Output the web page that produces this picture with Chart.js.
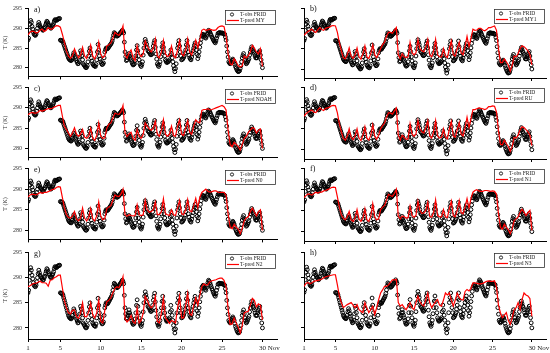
<!DOCTYPE html>
<html>
<head>
<meta charset="utf-8">
<script src="https://cdn.jsdelivr.net/npm/chart.js@4.4.0/dist/chart.umd.min.js"></script>
<style>
  html, body { margin: 0; padding: 0; background: #fff; }
  body { width: 550px; height: 353px; position: relative; overflow: hidden; }
  canvas { position: absolute; }
</style>
</head>
<body>
<script>
// Observed temperature (K), every 2 h from 1 Nov 00h to 30 Nov 00h (one line per day)
const obsTemp = [
  287.0, 287.5, 289.5, 291.0, 292.0, 291.5, 290.5, 289.8, 289.0, 288.5, 288.3, 288.2,
  288.5, 289.2, 290.0, 290.8, 291.5, 291.0, 290.5, 290.2, 290.0, 289.8, 289.5, 289.6,
  290.0, 290.3, 290.8, 291.3, 291.8, 291.6, 291.2, 290.8, 290.5, 290.2, 290.0, 290.2,
  290.5, 290.8, 291.2, 291.8, 292.2, 292.1, 292.0, 292.1, 292.3, 292.4, 292.4, 292.5,
  287.0, 286.9, 286.9, 286.8, 286.5, 286.0, 285.5, 285.0, 284.5, 284.0, 283.5, 283.0,
  282.5, 282.2, 282.0, 281.9, 281.8, 282.0, 282.5, 283.2, 283.8, 283.4, 282.8, 282.3,
  281.8, 281.4, 281.0, 281.1, 281.5, 282.8, 284.3, 283.8, 283.0, 282.0, 281.0, 280.7,
  280.5, 280.2, 280.0, 280.1, 280.5, 281.5, 283.0, 284.2, 285.0, 283.8, 282.5, 281.7,
  281.0, 280.7, 280.5, 280.4, 280.3, 280.8, 282.0, 284.0, 285.9, 284.5, 283.0, 282.2,
  281.5, 281.1, 280.8, 280.9, 281.2, 282.5, 284.0, 284.6, 285.0, 284.9, 284.8, 285.0,
  285.3, 285.5, 285.8, 286.0, 286.3, 286.8, 287.5, 288.3, 288.9, 288.7, 288.5, 288.2,
  288.0, 288.1, 288.2, 288.4, 288.6, 288.8, 289.0, 289.2, 289.5, 289.2, 288.8, 286.5,
  284.0, 282.8, 281.8, 282.0, 282.5, 283.0, 283.6, 283.0, 282.5, 282.0, 281.5, 281.0,
  280.7, 280.8, 281.0, 281.8, 283.0, 284.5, 285.6, 284.3, 283.0, 282.0, 281.0, 280.6,
  280.3, 280.8, 281.5, 283.2, 285.0, 286.3, 287.2, 286.6, 286.0, 285.2, 284.3, 284.1,
  284.0, 283.6, 283.3, 283.3, 283.5, 284.5, 285.5, 286.3, 286.9, 285.2, 283.5, 282.2,
  281.0, 280.6, 280.3, 280.8, 281.5, 282.8, 284.0, 285.3, 286.3, 285.2, 284.0, 283.0,
  282.0, 281.6, 281.3, 281.4, 281.5, 281.7, 282.0, 283.2, 284.5, 283.5, 282.5, 281.5,
  280.5, 279.7, 279.0, 279.8, 281.0, 283.0, 285.0, 286.0, 286.9, 285.5, 284.0, 283.0,
  282.0, 282.1, 282.3, 282.6, 283.0, 283.7, 284.5, 285.8, 286.9, 285.5, 284.0, 283.2,
  282.5, 282.2, 282.0, 282.7, 283.5, 284.3, 285.0, 285.7, 286.3, 285.4, 284.5, 283.4,
  282.3, 283.0, 284.0, 285.2, 286.3, 287.2, 288.0, 288.3, 288.5, 288.3, 288.0, 287.7,
  287.5, 288.0, 288.5, 289.0, 289.5, 289.3, 289.0, 288.6, 288.2, 287.8, 287.5, 287.1,
  286.8, 286.5, 286.3, 286.8, 287.5, 288.1, 288.7, 288.8, 288.9, 288.9, 288.8, 288.8,
  288.8, 288.8, 288.7, 288.6, 288.5, 287.8, 287.0, 285.5, 284.0, 282.7, 281.5, 281.2,
  281.0, 281.2, 281.5, 281.9, 282.2, 281.9, 281.5, 280.9, 280.3, 279.9, 279.5, 279.2,
  279.0, 279.1, 279.2, 279.8, 280.5, 281.5, 282.5, 283.1, 283.6, 282.8, 282.0, 281.5,
  281.0, 281.2, 281.5, 281.9, 282.3, 283.2, 284.0, 284.7, 285.3, 284.8, 284.3, 284.0,
  283.6, 283.0, 282.5, 282.5, 282.5, 283.0, 283.5, 283.9, 284.3, 283.2, 282.0, 281.0,
  280.0
];

// Predicted temperature (K), every 6 h
const predMY = [
  288.3, 289.0, 289.3, 289.2,  288.8, 289.0, 289.5, 289.8,  289.2, 289.5, 290.2, 289.8,
  289.8, 290.3, 290.7, 290.6,  290.3, 288.5, 286.5, 284.2,  283.0, 282.4, 283.0, 284.8,
  283.5, 282.5, 283.2, 285.2,  283.0, 282.3, 283.5, 285.7,  283.0, 282.2, 283.5, 286.5,
  283.5, 282.5, 283.0, 285.5,  285.8, 286.3, 287.5, 289.0,  288.5, 288.2, 289.0, 290.6,
  283.2, 282.4, 283.8, 284.5,  282.5, 281.8, 285.6, 283.5,  282.8, 283.5, 286.8, 285.5,
  284.5, 284.0, 285.0, 287.3,  283.0, 282.5, 284.0, 286.9,  283.5, 282.8, 283.2, 285.5,
  283.0, 282.5, 284.5, 286.9,  283.5, 283.0, 284.5, 287.3,  284.0, 283.2, 285.0, 287.0,
  285.0, 287.0, 289.5, 289.8,  289.5, 289.6, 289.8, 289.6,  289.5, 289.6, 290.2, 290.5,
  290.6, 290.4, 288.0, 283.5,  281.0, 280.7, 282.3, 281.5,  280.5, 280.2, 280.5, 283.0,
  282.5, 283.0, 284.0, 285.7,  285.0, 284.0, 283.5, 284.8,  280.3
];
const predMY1 = [
  288.3, 288.8, 289.2, 289.5,  289.8, 289.2, 289.0, 289.6,  290.2, 289.7, 289.5, 290.0,
  290.2, 290.3, 290.6, 290.7,  290.6, 289.0, 286.5, 284.5,  282.8, 282.5, 283.5, 285.2,
  283.2, 282.6, 283.5, 285.2,  283.0, 282.4, 283.8, 285.7,  283.0, 282.6, 283.8, 286.0,
  283.5, 282.8, 283.8, 285.0,  286.0, 286.6, 288.0, 289.0,  289.0, 288.8, 289.5, 290.2,
  283.5, 282.5, 283.8, 283.0,  282.8, 283.0, 286.6, 284.0,  283.5, 284.0, 287.3, 285.0,
  284.5, 284.2, 285.5, 287.3,  283.5, 283.0, 284.5, 287.3,  283.5, 283.0, 283.0, 285.0,
  283.2, 282.8, 285.0, 286.9,  283.5, 283.2, 285.0, 286.6,  284.0, 283.5, 285.5, 288.0,
  285.5, 287.5, 289.8, 289.5,  289.6, 290.0, 290.0, 289.6,  289.4, 289.7, 290.2, 290.2,
  290.4, 290.6, 289.5, 285.0,  281.6, 281.6, 282.5, 281.8,  281.0, 279.5, 281.0, 283.2,
  283.0, 283.8, 285.0, 285.7,  285.5, 285.0, 284.5, 283.5,  281.0
];
const predNOAH = [
  288.3, 288.7, 288.9, 288.7,  288.7, 289.0, 289.4, 289.2,  289.4, 289.6, 289.8, 289.8,
  289.9, 290.2, 290.4, 290.6,  290.6, 288.0, 285.5, 284.7,  283.8, 283.0, 283.8, 285.1,
  283.5, 283.0, 283.5, 284.7,  282.8, 282.5, 283.0, 285.0,  282.5, 282.0, 283.2, 286.3,
  283.0, 282.5, 282.6, 285.0,  286.0, 286.3, 287.5, 288.7,  288.5, 288.4, 289.0, 290.6,
  283.9, 282.9, 283.6, 284.0,  282.5, 282.0, 284.7, 283.0,  282.5, 283.5, 286.3, 285.5,
  284.8, 284.5, 285.0, 286.7,  283.5, 283.0, 284.5, 287.1,  283.5, 283.0, 283.5, 285.5,
  283.2, 283.0, 285.5, 287.1,  283.5, 283.2, 285.0, 286.9,  284.0, 283.5, 285.5, 287.1,
  286.5, 286.3, 289.4, 289.6,  289.6, 289.8, 289.5, 289.6,  289.8, 290.0, 290.2, 290.4,
  290.6, 290.3, 289.5, 284.5,  281.0, 280.4, 281.5, 281.0,  280.5, 279.6, 281.0, 282.5,
  283.0, 284.0, 284.5, 285.1,  285.0, 283.8, 284.5, 284.8,  280.0
];
const predRU = [
  288.0, 288.6, 289.0, 289.3,  289.5, 289.0, 288.9, 289.5,  290.0, 289.6, 289.4, 289.9,
  290.0, 290.2, 290.5, 290.6,  290.5, 288.8, 286.2, 284.3,  282.8, 282.3, 283.2, 285.0,
  283.0, 282.4, 283.3, 285.0,  282.8, 282.2, 283.5, 285.5,  282.8, 282.3, 283.5, 286.0,
  283.2, 282.5, 283.5, 285.0,  285.8, 286.4, 287.8, 288.8,  288.8, 288.5, 289.3, 290.0,
  283.5, 282.3, 283.5, 283.0,  282.5, 282.6, 286.2, 283.8,  283.2, 283.8, 287.0, 285.0,
  284.3, 284.0, 285.3, 287.0,  283.3, 282.8, 284.3, 287.0,  283.3, 282.8, 283.0, 285.0,
  283.0, 282.6, 285.0, 286.8,  283.3, 283.0, 284.8, 286.5,  283.8, 283.3, 285.3, 287.8,
  285.3, 287.3, 289.6, 289.6,  289.8, 290.0, 289.9, 289.8,  289.6, 289.8, 290.3, 290.3,
  290.5, 290.4, 289.0, 284.5,  281.3, 281.2, 282.3, 281.5,  280.8, 279.6, 280.8, 283.0,
  282.8, 283.5, 284.8, 285.5,  285.3, 284.8, 284.3, 283.5,  281.0
];
const predN0 = [
  288.1, 288.6, 288.8, 288.7,  288.6, 288.9, 289.2, 289.0,  289.2, 289.2, 289.4, 289.6,
  289.9, 290.0, 290.4, 290.6,  290.5, 288.0, 285.5, 283.8,  283.1, 283.0, 283.5, 284.6,
  282.8, 282.3, 283.0, 285.4,  283.0, 282.3, 283.0, 285.3,  282.8, 282.3, 283.5, 286.9,
  283.5, 282.6, 282.8, 285.3,  285.7, 286.0, 287.3, 288.6,  288.3, 288.2, 288.8, 290.0,
  283.8, 283.4, 283.8, 283.6,  283.5, 283.6, 286.2, 283.8,  283.6, 283.8, 287.3, 285.0,
  284.4, 284.6, 285.0, 286.9,  283.8, 283.8, 284.5, 287.7,  284.0, 283.8, 283.6, 285.0,
  283.8, 283.6, 285.5, 287.3,  284.0, 283.8, 285.0, 287.5,  284.8, 284.5, 286.0, 287.8,
  285.5, 288.0, 289.2, 289.6,  290.0, 289.5, 289.3, 289.4,  289.6, 289.6, 289.3, 289.2,
  289.2, 289.2, 288.5, 284.0,  280.8, 280.4, 281.5, 280.8,  280.3, 279.2, 280.5, 282.3,
  283.0, 283.3, 284.5, 285.4,  284.5, 283.5, 284.5, 285.0,  280.0
];
const predN1 = [
  288.0, 288.5, 288.9, 288.8,  288.6, 289.0, 289.3, 289.1,  289.3, 289.3, 289.6, 289.7,
  289.9, 290.1, 290.4, 290.5,  290.4, 288.2, 285.8, 284.0,  283.2, 282.8, 283.5, 284.8,
  282.8, 282.4, 283.2, 285.2,  283.0, 282.4, 283.2, 285.4,  282.8, 282.4, 283.6, 286.6,
  283.5, 282.8, 283.0, 285.2,  285.8, 286.2, 287.5, 288.8,  288.5, 288.3, 289.0, 290.0,
  283.6, 283.0, 283.7, 283.5,  283.2, 283.3, 286.0, 283.8,  283.4, 283.8, 287.2, 285.0,
  284.3, 284.4, 285.0, 287.0,  283.6, 283.4, 284.5, 287.5,  283.8, 283.5, 283.5, 285.2,
  283.5, 283.3, 285.5, 287.2,  283.8, 283.5, 285.0, 287.3,  284.5, 284.2, 285.8, 287.8,
  285.5, 287.8, 289.3, 289.7,  289.9, 289.6, 289.5, 289.5,  289.7, 289.7, 289.6, 289.5,
  289.6, 289.5, 288.8, 284.2,  281.0, 280.6, 281.8, 281.0,  280.5, 279.5, 280.7, 282.6,
  283.0, 283.5, 284.5, 285.3,  284.6, 283.8, 284.5, 285.0,  280.3
];
const predN2 = [
  288.2, 288.4, 288.7, 288.9,  288.9, 289.1, 289.3, 289.0,  289.0, 288.9, 288.3, 289.5,
  289.6, 290.0, 290.2, 290.5,  290.5, 288.0, 285.5, 284.0,  283.0, 282.8, 283.5, 283.6,
  282.2, 281.9, 283.0, 285.0,  282.3, 282.2, 283.2, 285.0,  282.6, 282.0, 283.0, 285.6,
  281.3, 281.0, 283.5, 285.2,  285.5, 286.0, 287.0, 287.9,  288.2, 288.0, 288.8, 290.2,
  281.9, 281.2, 281.6, 282.5,  281.2, 280.9, 284.0, 281.0,  281.5, 283.0, 286.3, 285.5,
  284.5, 284.0, 284.5, 286.3,  281.3, 281.0, 283.0, 285.9,  282.0, 281.5, 280.9, 281.5,
  281.3, 281.0, 284.0, 286.3,  282.0, 282.0, 284.5, 286.9,  282.8, 282.5, 284.5, 286.0,
  284.5, 286.5, 288.2, 288.8,  288.5, 288.6, 289.2, 289.4,  289.5, 289.6, 289.8, 289.9,
  289.9, 289.5, 288.2, 283.8,  280.7, 280.8, 282.0, 281.0,  280.2, 279.0, 280.5, 283.0,
  283.2, 283.3, 284.5, 285.9,  285.5, 284.2, 284.8, 284.5,  281.6
];
const predN3 = [
  288.2, 288.8, 289.0, 288.7,  288.9, 289.2, 289.3, 289.4,  289.5, 289.6, 289.9, 290.1,
  290.2, 290.3, 290.4, 290.5,  290.5, 288.5, 286.3, 285.0,  284.0, 284.3, 284.6, 284.8,
  285.0, 284.5, 284.0, 284.6,  283.6, 283.3, 283.0, 285.0,  284.0, 283.0, 283.6, 284.3,
  282.6, 284.0, 285.6, 286.9,  287.5, 288.2, 288.2, 288.5,  289.0, 289.5, 289.5, 289.6,
  285.0, 284.3, 284.6, 284.0,  283.6, 284.3, 285.0, 284.0,  283.6, 285.0, 286.3, 285.2,
  284.6, 284.3, 285.5, 286.9,  285.0, 284.0, 284.6, 285.2,  285.6, 284.5, 284.3, 285.5,
  286.9, 286.5, 286.9, 285.5,  284.3, 285.5, 286.9, 286.0,  285.6, 285.5, 287.2, 287.6,
  287.3, 287.8, 288.9, 288.9,  288.8, 288.7, 288.7, 288.8,  289.0, 289.2, 289.3, 289.2,
  289.2, 289.3, 288.0, 284.5,  283.0, 282.0, 282.5, 283.0,  281.5, 280.7, 282.0, 283.6,
  284.0, 285.0, 283.6, 285.6,  286.9, 286.5, 286.3, 285.8,  282.3
];

const obsPerDay = 12;
const predPerDay = 4;
const firstDay = 1;
const xTicks = [1, 5, 10, 15, 20, 25, 30];
const yTicks = [280, 285, 290, 295];
const panelLetters = ['a)', 'b)', 'c)', 'd)', 'e)', 'f)', 'g)', 'h)'];
const predNames = ['MY', 'MY1', 'NOAH', 'RU', 'N0', 'N1', 'N2', 'N3'];
const predSeries = [predMY, predMY1, predNOAH, predRU, predN0, predN1, predN2, predN3];
const obsName = 'T-obs FRID';

const FONT = '"Liberation Serif", "DejaVu Serif", serif';
const X_MIN = 1, X_MAX = 31.8, Y_MIN = 277.8, Y_MAX = 295;

// layout of the 2 x 4 grid (page pixels)
const cols = [
  { left: 28, dayPx: 8.1, axisW: 28 },
  { left: 304, dayPx: 7.86, axisW: 12 }
];
const rows = [
  { top: 8, bottom: 79 },
  { top: 87, bottom: 160 },
  { top: 168, bottom: 242 },
  { top: 252, bottom: 339 }
];
const PAD_T = 6, PAD_R = 12;

const toPoints = (vals, perDay) => vals.map((v, i) => ({ x: firstDay + i / perDay, y: v }));

// legend box + panel letter
const panelDecor = {
  id: 'panelDecor',
  afterDatasetsDraw(chart, args, opts) {
    const ctx = chart.ctx;
    const a = chart.chartArea;
    ctx.save();
    ctx.fillStyle = '#111';
    ctx.font = '8px ' + FONT;
    ctx.textBaseline = 'middle';
    ctx.textAlign = 'left';
    ctx.fillText(opts.letter, a.left + 6, a.top + 1);

    const bw = 50, bh = 14;
    const bx = Math.round(a.right - bw - 2), by = Math.round(a.top + 1);
    ctx.fillStyle = '#fff';
    ctx.fillRect(bx, by, bw, bh);
    ctx.strokeStyle = '#333';
    ctx.lineWidth = 0.8;
    ctx.strokeRect(bx + 0.5, by + 0.5, bw, bh);
    ctx.beginPath();
    ctx.arc(bx + 7, by + 4.5, 1.6, 0, Math.PI * 2);
    ctx.strokeStyle = '#111';
    ctx.lineWidth = 0.9;
    ctx.stroke();
    ctx.beginPath();
    ctx.moveTo(bx + 2, by + 10.5);
    ctx.lineTo(bx + 14, by + 10.5);
    ctx.strokeStyle = '#ff0000';
    ctx.lineWidth = 1.2;
    ctx.stroke();
    ctx.fillStyle = '#222';
    ctx.font = '5.5px ' + FONT;
    ctx.fillText(obsName, bx + 15, by + 4.5);
    ctx.fillText('T-pred ' + opts.name, bx + 15, by + 10.5);
    ctx.restore();
  }
};

predSeries.forEach((pred, i) => {
  const col = cols[i % 2];
  const rowIdx = Math.floor(i / 2);
  const row = rows[rowIdx];
  const lastRow = rowIdx === rows.length - 1;
  const xH = lastRow ? 16 : 4;
  const plotW = (X_MAX - X_MIN) * col.dayPx;

  const canvas = document.createElement('canvas');
  canvas.width = Math.round(col.axisW + plotW + PAD_R);
  canvas.height = Math.round(PAD_T + (row.bottom - row.top) + xH);
  canvas.style.left = (col.left - col.axisW) + 'px';
  canvas.style.top = (row.top - PAD_T) + 'px';
  document.body.appendChild(canvas);

  const leftCol = i % 2 === 0;

  new Chart(canvas, {
    type: 'line',
    data: {
      datasets: [
        {
          label: obsName,
          data: toPoints(obsTemp, obsPerDay),
          showLine: false,
          pointRadius: 1.9,
          pointBorderWidth: 1,
          pointBorderColor: '#000',
          pointBackgroundColor: 'rgba(255,255,255,0)',
          order: 2
        },
        {
          label: 'T-pred ' + predNames[i],
          data: toPoints(pred, predPerDay),
          borderColor: '#ff0000',
          borderWidth: 1.2,
          pointRadius: 0,
          tension: 0,
          order: 1
        }
      ]
    },
    options: {
      responsive: false,
      animation: false,
      devicePixelRatio: 1,
      layout: { padding: { top: PAD_T, right: PAD_R, left: 0, bottom: 0 } },
      plugins: {
        legend: { display: false },
        tooltip: { enabled: false },
        panelDecor: { letter: panelLetters[i], name: predNames[i] }
      },
      scales: {
        x: {
          type: 'linear',
          min: X_MIN,
          max: X_MAX,
          afterBuildTicks: (scale) => { scale.ticks = xTicks.map(v => ({ value: v })); },
          afterFit: (scale) => { scale.height = xH; },
          grid: { drawOnChartArea: false, drawTicks: true, tickLength: 3, color: '#000' },
          border: { display: true, color: '#000', width: 1 },
          ticks: {
            display: lastRow,
            padding: 2,
            color: '#222',
            font: { family: FONT, size: 7 },
            maxRotation: 0,
            autoSkip: false,
            callback: (v) => v === 30 ? ' '.repeat(8) + '30 Nov' : String(v)
          }
        },
        y: {
          min: Y_MIN,
          max: Y_MAX,
          afterBuildTicks: (scale) => { scale.ticks = yTicks.map(v => ({ value: v })); },
          afterFit: (scale) => { scale.width = col.axisW; },
          grid: { drawOnChartArea: false, drawTicks: true, tickLength: 3, color: '#000' },
          border: { display: true, color: '#000', width: 1 },
          title: {
            display: leftCol,
            text: 'T (K)',
            color: '#333',
            font: { family: FONT, size: 6 },
            padding: { top: 2, bottom: 0 }
          },
          ticks: {
            display: leftCol,
            padding: 3,
            color: '#333',
            font: { family: FONT, size: 6 },
            callback: (v) => String(v)
          }
        }
      }
    },
    plugins: [panelDecor]
  });
});
</script>
</body>
</html>
